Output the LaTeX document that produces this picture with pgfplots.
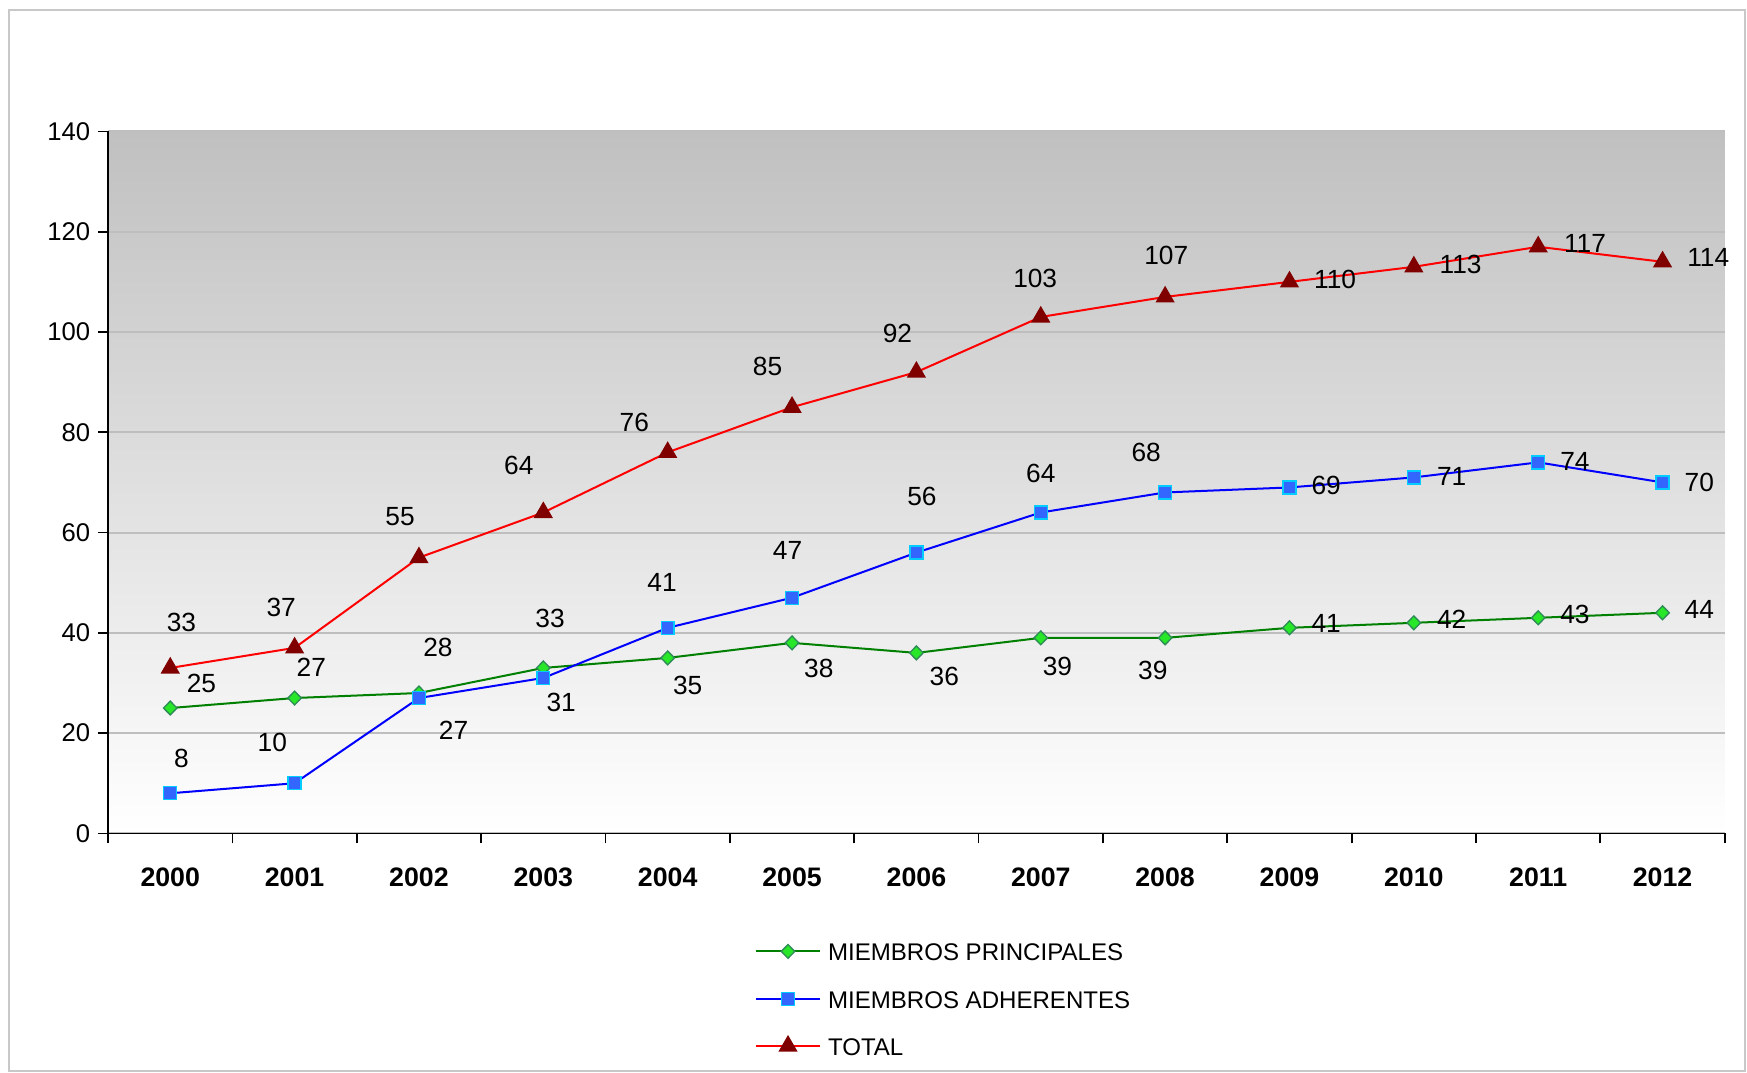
\documentclass[border=0pt]{standalone}
\usepackage{fontspec}
\setmainfont{Liberation Sans}
\usepackage{pgfplots}
\pgfplotsset{compat=1.18}
\usepackage{pgfplotstable}

% x = year index (0 = 2000), y = value, dx/dy = label offset in pt
\pgfplotstableread{
x y dx dy
0 25 14 11
1 27 7.5 14
2 28 8.5 20.5
3 33 3 22
4 35 9 -12.5
5 38 12 -11.5
6 36 12.5 -10.5
7 39 7.5 -13
8 39 -5.5 -14.5
9 41 16.5 2
10 42 17 1.5
11 43 16.5 1.5
12 44 16.5 1.5
}\principales

\pgfplotstableread{
x y dx dy
0 8 5 15.5
1 10 -10 18.5
2 27 15.5 -14.5
3 31 8 -11
4 41 -2.5 20.5
5 47 -2 21
6 56 2.5 25
7 64 0 17.5
8 68 -8.5 18
9 69 16.5 1
10 71 17 0.5
11 74 16.5 0.5
12 70 16.5 0
}\adherentes

\pgfplotstableread{
x y dx dy
0 33 5 20.5
1 37 -6 18
2 55 -8.5 18.5
3 64 -11 21
4 76 -15 13.5
5 85 -11 18.5
6 92 -8.5 17.5
7 103 -2.5 17.5
8 107 0.5 18.5
9 110 20.5 1
10 113 21 1
11 117 21 1.5
12 114 20.5 2
}\total

\definecolor{gridgray}{RGB}{190,190,190}
\definecolor{framegray}{RGB}{200,200,200}
\definecolor{bgtop}{RGB}{192,192,192}
\definecolor{lgreen}{RGB}{0,128,0}
\definecolor{mgreen}{RGB}{40,230,40}
\definecolor{dgreen}{RGB}{46,139,87}
\definecolor{lblue}{RGB}{0,0,255}
\definecolor{mblue}{RGB}{51,102,255}
\definecolor{mcyan}{RGB}{0,204,255}
\definecolor{lred}{RGB}{255,0,0}
\definecolor{mred}{RGB}{128,0,0}

\begin{document}
\begin{tikzpicture}
\useasboundingbox (-48.5pt,-107.5pt) rectangle (735.5pt,374pt);
\fill[white] (-48.5pt,-107.5pt) rectangle (735.5pt,374pt);
\draw[line width=0.9pt, framegray] (-44.5pt,-106.5pt) rectangle (734.5pt,369.5pt);
\begin{axis}[
  at={(0pt,0pt)}, anchor=south west,
  scale only axis, width=725.5pt, height=315pt,
  xmin=-0.5, xmax=12.5, ymin=0, ymax=140,
  axis lines=left,
  axis line style={-, line width=0.8pt, black},
  clip=false,
  axis background/.style={top color=bgtop, bottom color=white},
  ytick={0,20,...,140},
  xtick={-0.5,0.5,...,12.5},
  xticklabels={2000,2001,2002,2003,2004,2005,2006,2007,2008,2009,2010,2011,2012},
  x tick label as interval,
  tick align=outside,
  major tick length=4.5pt,
  tick style={line width=0.8pt, black},
  ymajorgrids,
  grid style={line width=0.9pt, gridgray},
  /pgf/number format/assume math mode=true,
  xticklabel style={font=\bfseries\fontsize{12}{14}\selectfont, yshift=-7.5pt},
  yticklabel style={font=\fontsize{11.5}{13}\selectfont},
  every axis plot/.append style={line width=0.9pt},
  nodes near coords,
  visualization depends on={\thisrow{dx} \as \dx},
  visualization depends on={\thisrow{dy} \as \dy},
  nodes near coords style={anchor=center, inner sep=0pt,
    xshift=\dx pt, yshift=\dy pt, text=black,
    font=\fontsize{11.8}{14}\selectfont,
    /pgf/number format/fixed, /pgf/number format/precision=0},
  legend style={at={(axis description cs:0.3997,-0.154)}, anchor=north west,
    draw=none, fill=none, inner sep=0pt, row sep=12.75pt, column sep=3pt,
    font=\fontsize{10.8}{13}\selectfont,
    nodes={inner sep=0pt, text height=8.5pt, text depth=0pt}},
  legend cell align=left,
  legend image code/.code={
    \draw[mark repeat=2, mark phase=2] plot coordinates {(0pt,0pt) (14.5pt,0pt) (29pt,0pt)};
  },
]
\addplot[lgreen, mark=diamond*, mark size=3.1pt,
  mark options={fill=mgreen, draw=dgreen, line width=0.6pt, xscale=1.3}]
  table[x=x, y=y] {\principales};
\addlegendentry{MIEMBROS PRINCIPALES}
\addplot[lblue, mark=square*, mark size=2.9pt,
  mark options={fill=mblue, draw=mcyan, line width=0.6pt}]
  table[x=x, y=y] {\adherentes};
\addlegendentry{MIEMBROS ADHERENTES}
\addplot[lred, mark=triangle*, mark size=4.1pt,
  mark options={fill=mred, draw=mred}]
  table[x=x, y=y] {\total};
\addlegendentry{TOTAL}
\end{axis}
\end{tikzpicture}
\end{document}
